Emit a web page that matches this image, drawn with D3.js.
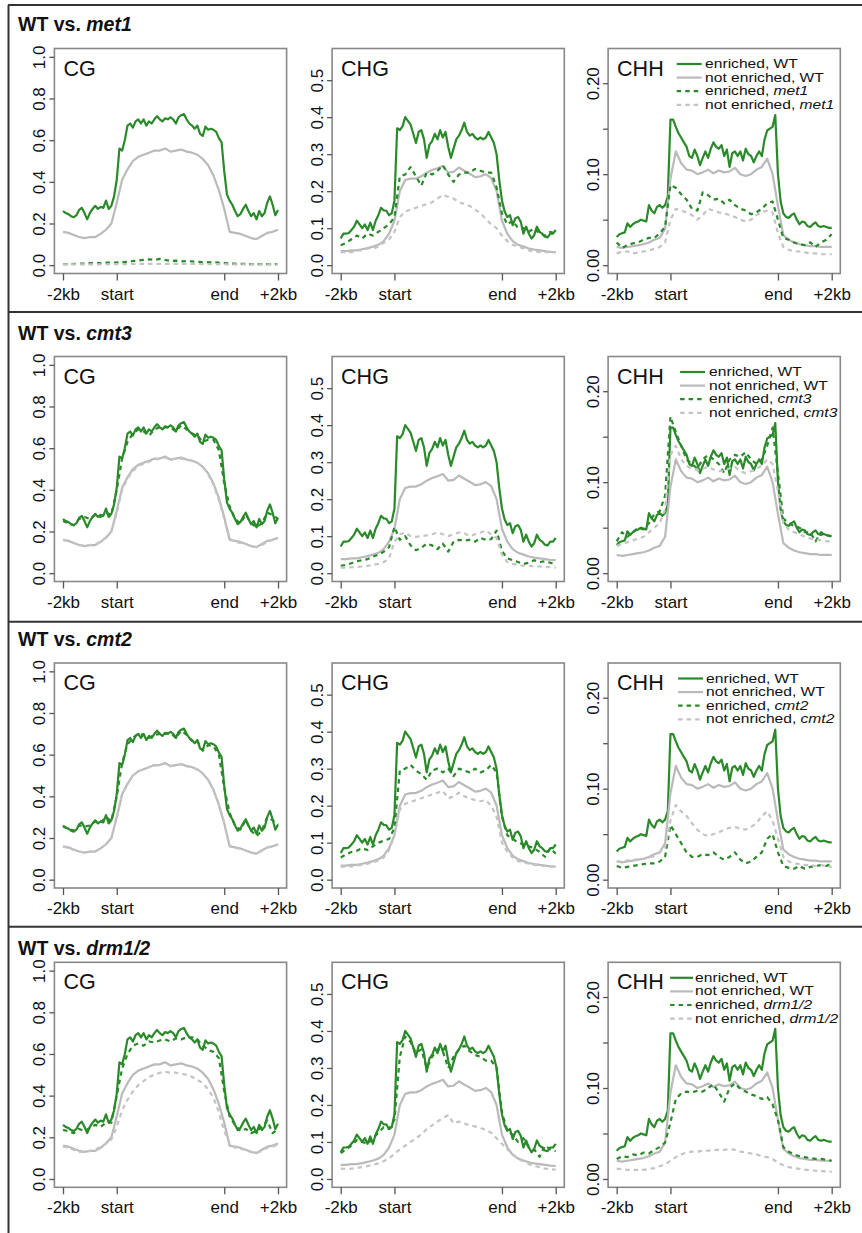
<!DOCTYPE html>
<html>
<head>
<meta charset="utf-8">
<script src="https://cdn.jsdelivr.net/npm/d3@7"></script>
<style>
  body { margin: 0; background: #fff; }
  svg text { font-family: "Liberation Sans", Arial, Helvetica, sans-serif; fill: #111; }
</style>
</head>
<body>
<svg id="fig" width="862" height="1233"></svg>
<script>
// ---- categories / labels
const contexts = ['CG', 'CHG', 'CHH'];
const mutants = ['met1', 'cmt3', 'cmt2', 'drm1/2'];
const regionTicks = [0, 1, 3, 4];
const regionLabels = ['-2kb', 'start', 'end', '+2kb'];

const cgTicks = [0, 0.2, 0.4, 0.6, 0.8, 1.0];
const cgTickLabels = ['0.0', '0.2', '0.4', '0.6', '0.8', '1.0'];
const chgTicks = [0, 0.1, 0.2, 0.3, 0.4, 0.5];
const chgTickLabels = ['0.0', '0.1', '0.2', '0.3', '0.4', '0.5'];
const chhTicks = [0, 0.05, 0.1, 0.15, 0.2];
const chhTickLabels = ['0.00', '', '0.10', '', '0.20'];
const yLimits = { CG: [0, 1], CHG: [0, 0.563], CHH: [0, 0.229] };

// bin positions: -2kb..start = 0..1, gene body = 1..3, end..+2kb = 3..4
const binsFine = d3.range(81).map(i => i / 20);
const binsCoarse = d3.range(41).map(i => i / 10);

// ---- WT (same in every row)
const wtCGenr = [0.26,0.25,0.245,0.235,0.23,0.24,0.265,0.275,0.25,0.22,
  0.25,0.27,0.285,0.27,0.28,0.275,0.31,0.27,0.285,0.33,
  0.41,0.56,0.55,0.6,0.67,0.68,0.66,0.69,0.7,0.68,
  0.7,0.67,0.69,0.68,0.7,0.715,0.7,0.69,0.705,0.7,
  0.71,0.7,0.68,0.71,0.72,0.725,0.7,0.68,0.67,0.655,
  0.67,0.63,0.62,0.665,0.65,0.655,0.65,0.64,0.61,0.59,
  0.45,0.34,0.31,0.29,0.26,0.235,0.245,0.27,0.29,0.26,
  0.235,0.25,0.22,0.26,0.235,0.25,0.3,0.33,0.29,0.24,
  0.265];
const wtCGnot = [0.16,0.155,0.145,0.135,0.13,0.135,0.135,0.15,0.17,0.2,
  0.3,0.41,0.46,0.5,0.52,0.53,0.54,0.55,0.55,0.56,
  0.545,0.55,0.555,0.545,0.54,0.53,0.51,0.48,0.43,0.36,
  0.27,0.16,0.155,0.15,0.14,0.13,0.125,0.14,0.155,0.16,
  0.17];
const wtCHGenr = [0.072,0.085,0.085,0.087,0.095,0.104,0.12,0.11,0.1,0.11,
  0.095,0.115,0.095,0.12,0.135,0.155,0.148,0.147,0.135,0.14,
  0.175,0.37,0.365,0.375,0.4,0.39,0.38,0.355,0.33,0.36,
  0.365,0.34,0.29,0.325,0.335,0.355,0.34,0.365,0.345,0.36,
  0.32,0.29,0.315,0.34,0.35,0.365,0.385,0.36,0.35,0.355,
  0.345,0.34,0.345,0.34,0.345,0.36,0.345,0.33,0.3,0.23,
  0.175,0.145,0.13,0.135,0.108,0.127,0.13,0.117,0.085,0.104,
  0.085,0.072,0.081,0.104,0.09,0.085,0.077,0.075,0.085,0.085,
  0.095];
const wtCHGnot = [0.038,0.038,0.04,0.04,0.043,0.046,0.05,0.055,0.065,0.085,
  0.12,0.2,0.23,0.234,0.234,0.24,0.25,0.257,0.262,0.268,
  0.25,0.252,0.264,0.255,0.247,0.238,0.24,0.246,0.235,0.2,
  0.12,0.085,0.065,0.055,0.05,0.045,0.042,0.04,0.038,0.036,
  0.035];
const wtCHHenr = [0.031,0.034,0.035,0.036,0.046,0.042,0.045,0.047,0.048,0.05,
  0.049,0.048,0.066,0.06,0.057,0.064,0.066,0.063,0.066,0.075,
  0.16,0.16,0.152,0.145,0.14,0.135,0.13,0.12,0.118,0.127,
  0.12,0.11,0.118,0.125,0.118,0.128,0.135,0.13,0.128,0.132,
  0.12,0.127,0.108,0.123,0.125,0.12,0.125,0.115,0.128,0.122,
  0.12,0.113,0.12,0.125,0.12,0.138,0.148,0.15,0.152,0.165,
  0.1,0.07,0.057,0.053,0.052,0.055,0.057,0.05,0.045,0.048,
  0.047,0.043,0.042,0.045,0.047,0.043,0.042,0.043,0.042,0.041,
  0.041];
const wtCHHnot = [0.02,0.019,0.02,0.021,0.022,0.023,0.025,0.028,0.03,0.04,
  0.095,0.125,0.112,0.105,0.104,0.1,0.102,0.105,0.101,0.104,
  0.102,0.103,0.107,0.1,0.098,0.1,0.105,0.108,0.117,0.1,
  0.065,0.033,0.028,0.025,0.023,0.022,0.021,0.021,0.02,0.02,
  0.02];

// ---- met1
const met1CGenr = [0.005,0.005,0.006,0.008,0.008,0.01,0.01,0.01,0.012,0.012,
  0.013,0.015,0.016,0.02,0.022,0.025,0.028,0.025,0.03,0.025,
  0.02,0.022,0.018,0.02,0.018,0.016,0.015,0.014,0.015,0.012,
  0.01,0.008,0.007,0.006,0.006,0.005,0.005,0.005,0.005,0.005,
  0.005];
const met1CGnot = [0.004,0.004,0.004,0.004,0.004,0.004,0.004,0.004,0.004,0.005,
  0.005,0.005,0.005,0.006,0.006,0.006,0.006,0.006,0.006,0.006,
  0.006,0.006,0.006,0.006,0.006,0.006,0.005,0.005,0.005,0.005,
  0.005,0.004,0.004,0.004,0.004,0.004,0.004,0.004,0.004,0.004,
  0.004];
const met1CHGenr = [0.054,0.06,0.07,0.08,0.072,0.085,0.08,0.09,0.1,0.11,
  0.13,0.24,0.245,0.265,0.24,0.215,0.25,0.245,0.255,0.27,
  0.245,0.225,0.245,0.25,0.25,0.26,0.255,0.25,0.25,0.21,
  0.14,0.11,0.12,0.1,0.1,0.09,0.1,0.085,0.08,0.09,
  0.085];
const met1CHGnot = [0.035,0.035,0.035,0.04,0.04,0.045,0.045,0.05,0.06,0.07,
  0.09,0.13,0.145,0.15,0.155,0.16,0.165,0.17,0.18,0.19,
  0.185,0.18,0.17,0.165,0.16,0.15,0.14,0.125,0.11,0.1,
  0.08,0.065,0.055,0.05,0.045,0.04,0.037,0.035,0.035,0.035,
  0.035];
const met1CHHenr = [0.025,0.019,0.022,0.024,0.025,0.028,0.03,0.03,0.035,0.042,
  0.088,0.085,0.078,0.072,0.062,0.06,0.08,0.077,0.072,0.073,
  0.068,0.072,0.066,0.062,0.06,0.056,0.058,0.062,0.068,0.07,
  0.05,0.03,0.028,0.025,0.023,0.022,0.025,0.02,0.025,0.028,
  0.034];
const met1CHHnot = [0.013,0.015,0.015,0.013,0.014,0.015,0.016,0.018,0.02,0.025,
  0.05,0.062,0.06,0.058,0.055,0.05,0.055,0.062,0.06,0.058,
  0.057,0.055,0.053,0.05,0.048,0.05,0.055,0.058,0.06,0.058,
  0.035,0.02,0.017,0.015,0.015,0.014,0.013,0.013,0.012,0.012,
  0.012];

// ---- cmt3
const cmt3CGenr = [0.25,0.24,0.23,0.26,0.27,0.26,0.28,0.27,0.29,0.28,
  0.4,0.55,0.63,0.67,0.69,0.68,0.66,0.69,0.7,0.7,
  0.7,0.68,0.71,0.69,0.67,0.66,0.63,0.64,0.64,0.59,
  0.43,0.32,0.26,0.24,0.28,0.24,0.22,0.24,0.29,0.28,
  0.26];
const cmt3CGnot = [0.16,0.155,0.145,0.135,0.132,0.135,0.138,0.152,0.172,0.2,
  0.29,0.4,0.455,0.49,0.515,0.525,0.535,0.545,0.55,0.555,
  0.545,0.55,0.55,0.545,0.54,0.53,0.51,0.475,0.425,0.35,
  0.26,0.165,0.15,0.145,0.14,0.13,0.125,0.135,0.15,0.16,
  0.165];
const cmt3CHGenr = [0.02,0.022,0.027,0.032,0.035,0.038,0.045,0.05,0.058,0.07,
  0.125,0.09,0.1,0.075,0.062,0.068,0.08,0.075,0.065,0.08,
  0.058,0.085,0.09,0.088,0.09,0.085,0.095,0.09,0.092,0.115,
  0.06,0.04,0.035,0.03,0.025,0.028,0.035,0.03,0.032,0.028,
  0.025];
const cmt3CHGnot = [0.015,0.015,0.016,0.017,0.018,0.02,0.022,0.025,0.03,0.04,
  0.085,0.105,0.11,0.1,0.098,0.1,0.102,0.105,0.11,0.105,
  0.1,0.105,0.11,0.108,0.1,0.105,0.11,0.115,0.105,0.095,
  0.05,0.03,0.025,0.022,0.02,0.02,0.018,0.018,0.017,0.016,
  0.015];
const cmt3CHHenr = [0.035,0.045,0.04,0.045,0.05,0.048,0.055,0.065,0.068,0.085,
  0.172,0.155,0.14,0.125,0.12,0.115,0.125,0.13,0.125,0.12,
  0.11,0.125,0.13,0.128,0.133,0.125,0.12,0.125,0.14,0.16,
  0.11,0.06,0.055,0.052,0.05,0.045,0.045,0.035,0.045,0.042,
  0.04];
const cmt3CHHnot = [0.03,0.032,0.034,0.036,0.038,0.04,0.045,0.05,0.055,0.07,
  0.13,0.14,0.125,0.118,0.115,0.113,0.115,0.117,0.114,0.112,
  0.113,0.115,0.117,0.112,0.11,0.112,0.115,0.118,0.125,0.12,
  0.09,0.055,0.048,0.045,0.043,0.04,0.038,0.037,0.036,0.035,
  0.035];

// ---- cmt2
const cmt2CGenr = [0.255,0.245,0.235,0.26,0.255,0.26,0.28,0.275,0.3,0.28,
  0.4,0.56,0.65,0.68,0.7,0.695,0.68,0.695,0.7,0.7,
  0.705,0.68,0.715,0.695,0.665,0.665,0.62,0.645,0.64,0.6,
  0.44,0.32,0.26,0.24,0.285,0.235,0.21,0.235,0.3,0.285,
  0.265];
const cmt2CGnot = [0.158,0.152,0.143,0.135,0.13,0.134,0.137,0.15,0.17,0.2,
  0.3,0.41,0.46,0.5,0.52,0.53,0.54,0.548,0.55,0.558,
  0.545,0.55,0.553,0.545,0.54,0.528,0.51,0.48,0.43,0.36,
  0.27,0.162,0.153,0.148,0.14,0.13,0.124,0.14,0.155,0.16,
  0.168];
const cmt2CHGenr = [0.06,0.068,0.075,0.078,0.085,0.08,0.09,0.1,0.105,0.11,
  0.14,0.295,0.3,0.31,0.295,0.285,0.27,0.295,0.3,0.29,
  0.3,0.28,0.3,0.295,0.29,0.3,0.29,0.295,0.31,0.29,
  0.17,0.12,0.11,0.1,0.095,0.09,0.085,0.075,0.062,0.085,
  0.07];
const cmt2CHGnot = [0.035,0.035,0.036,0.038,0.04,0.043,0.047,0.052,0.06,0.08,
  0.12,0.19,0.205,0.21,0.215,0.22,0.225,0.23,0.235,0.24,
  0.22,0.225,0.235,0.225,0.22,0.215,0.212,0.215,0.2,0.17,
  0.1,0.075,0.06,0.05,0.047,0.043,0.04,0.038,0.037,0.036,
  0.035];
const cmt2CHHenr = [0.015,0.013,0.014,0.015,0.016,0.017,0.018,0.018,0.02,0.025,
  0.06,0.05,0.04,0.03,0.025,0.025,0.028,0.027,0.03,0.025,
  0.022,0.025,0.03,0.022,0.018,0.02,0.025,0.03,0.045,0.05,
  0.03,0.015,0.013,0.012,0.015,0.012,0.014,0.015,0.016,0.015,
  0.018];
const cmt2CHHnot = [0.02,0.02,0.021,0.022,0.022,0.023,0.024,0.026,0.03,0.035,
  0.065,0.082,0.075,0.07,0.062,0.055,0.05,0.048,0.05,0.052,
  0.055,0.057,0.058,0.056,0.055,0.058,0.062,0.07,0.075,0.065,
  0.045,0.025,0.02,0.018,0.017,0.016,0.016,0.015,0.016,0.015,
  0.014];

// ---- drm1/2
const drmCGenr = [0.235,0.23,0.22,0.24,0.23,0.245,0.26,0.25,0.27,0.27,
  0.4,0.53,0.6,0.64,0.65,0.64,0.66,0.655,0.665,0.67,
  0.66,0.675,0.67,0.68,0.68,0.67,0.64,0.62,0.61,0.58,
  0.42,0.3,0.26,0.23,0.24,0.22,0.23,0.25,0.28,0.22,
  0.24];
const drmCGnot = [0.155,0.15,0.14,0.13,0.13,0.135,0.14,0.155,0.17,0.19,
  0.25,0.33,0.38,0.42,0.45,0.47,0.49,0.5,0.51,0.515,
  0.51,0.51,0.505,0.5,0.49,0.475,0.46,0.43,0.39,0.32,
  0.23,0.17,0.15,0.145,0.14,0.13,0.125,0.135,0.15,0.155,
  0.165];
const drmCHGenr = [0.07,0.08,0.09,0.105,0.1,0.095,0.11,0.125,0.14,0.135,
  0.16,0.33,0.385,0.37,0.34,0.35,0.3,0.33,0.35,0.345,
  0.3,0.33,0.35,0.36,0.345,0.335,0.33,0.32,0.32,0.3,
  0.18,0.13,0.12,0.1,0.11,0.085,0.08,0.06,0.09,0.08,
  0.075];
const drmCHGnot = [0.028,0.027,0.028,0.03,0.032,0.035,0.038,0.042,0.048,0.056,
  0.068,0.08,0.09,0.1,0.11,0.12,0.135,0.145,0.155,0.165,
  0.172,0.15,0.155,0.15,0.145,0.142,0.138,0.133,0.125,0.11,
  0.095,0.08,0.068,0.055,0.048,0.04,0.035,0.032,0.028,0.026,
  0.025];
const drmCHHenr = [0.022,0.025,0.024,0.027,0.026,0.029,0.028,0.032,0.035,0.04,
  0.062,0.088,0.094,0.096,0.095,0.097,0.096,0.1,0.104,0.095,
  0.085,0.1,0.105,0.099,0.096,0.093,0.091,0.088,0.09,0.082,
  0.065,0.035,0.03,0.027,0.025,0.024,0.023,0.022,0.022,0.021,
  0.02];
const drmCHHnot = [0.011,0.011,0.01,0.01,0.01,0.01,0.011,0.012,0.014,0.016,
  0.02,0.024,0.027,0.029,0.03,0.03,0.031,0.031,0.032,0.032,
  0.032,0.033,0.032,0.03,0.029,0.028,0.027,0.025,0.024,0.022,
  0.018,0.015,0.013,0.012,0.011,0.01,0.01,0.009,0.009,0.008,
  0.008];

// tables built from the arrays above
const wtSeries = {
  CG: { enr: wtCGenr, not: wtCGnot },
  CHG: { enr: wtCHGenr, not: wtCHGnot },
  CHH: { enr: wtCHHenr, not: wtCHHnot }
};
const mutSeries = {
  'met1': { CG: [met1CGenr, met1CGnot], CHG: [met1CHGenr, met1CHGnot], CHH: [met1CHHenr, met1CHHnot] },
  'cmt3': { CG: [cmt3CGenr, cmt3CGnot], CHG: [cmt3CHGenr, cmt3CHGnot], CHH: [cmt3CHHenr, cmt3CHHnot] },
  'cmt2': { CG: [cmt2CGenr, cmt2CGnot], CHG: [cmt2CHGenr, cmt2CHGnot], CHH: [cmt2CHHenr, cmt2CHHnot] },
  'drm1/2': { CG: [drmCGenr, drmCGnot], CHG: [drmCHGenr, drmCHGnot], CHH: [drmCHHenr, drmCHHnot] }
};
const yAxes = {
  CG: { ticks: cgTicks, labels: cgTickLabels },
  CHG: { ticks: chgTicks, labels: chgTickLabels },
  CHH: { ticks: chhTicks, labels: chhTickLabels }
};

// ---- layout
const rowTop = [5, 312, 621.7, 926.7];
const titleBase = [31, 340, 646, 955];
const boxTop = [48.5, 356.5, 663, 962.3];
const boxH = 225;
const boxLeft = [54.4, 332.1, 608.1];
const boxW = 232.2;
// legend placement per row, relative to the CHH box
const legendPos = [
  { x0: 68.6, x1: 93.6, tx: 97 },
  { x0: 72, x1: 97, tx: 101 },
  { x0: 70, x1: 95, tx: 98 },
  { x0: 62, x1: 85, tx: 87 }
];
const legendY0 = 19.5;
const legendDy = 13.6;

const GREEN = '#2a8a2a';
const GREY = '#bababa';
const GREY_D = '#c4c4c4';
const styles = [
  { color: GREEN, dash: null },
  { color: GREY, dash: null },
  { color: GREEN, dash: '4.5,4' },
  { color: GREY_D, dash: '4.5,4' }
];

const svg = d3.select('#fig');

// outer frame and row separators
svg.append('line')
  .attr('x1', 8.5).attr('x2', 8.5).attr('y1', rowTop[0]).attr('y2', 1233)
  .attr('stroke', '#333').attr('stroke-width', 2);
svg.selectAll('line.sep').data(rowTop).join('line')
  .attr('class', 'sep')
  .attr('x1', 8).attr('x2', 862).attr('y1', d => d).attr('y2', d => d)
  .attr('stroke', '#333').attr('stroke-width', 2);

mutants.forEach((mut, r) => {
  // row title
  const title = svg.append('text')
    .attr('x', 18).attr('y', titleBase[r])
    .attr('font-size', 19.5).attr('font-weight', 'bold');
  title.append('tspan').text('WT vs. ');
  title.append('tspan').attr('font-style', 'italic').text(mut);

  contexts.forEach((ctx, c) => {
    const left = boxLeft[c];
    const top = boxTop[r];
    const [lo, hi] = yLimits[ctx];
    const pad = (hi - lo) * 0.04;

    const x = d3.scaleLinear().domain([-0.16, 4.16]).range([left, left + boxW]);
    const y = d3.scaleLinear().domain([lo - pad, hi + pad]).range([top + boxH, top]);

    const g = svg.append('g').attr('class', 'panel');

    const series = [
      { vals: wtSeries[ctx].enr, bins: binsFine, st: styles[0] },
      { vals: wtSeries[ctx].not, bins: binsCoarse, st: styles[1] },
      { vals: mutSeries[mut][ctx][0], bins: binsCoarse, st: styles[2] },
      { vals: mutSeries[mut][ctx][1], bins: binsCoarse, st: styles[3] }
    ];

    g.selectAll('path.series').data(series).join('path')
      .attr('class', 'series')
      .attr('fill', 'none')
      .attr('stroke', s => s.st.color)
      .attr('stroke-width', 2.2)
      .attr('stroke-dasharray', s => s.st.dash)
      .attr('stroke-linejoin', 'round')
      .attr('d', s => d3.line().x((d, i) => x(s.bins[i])).y(d => y(d))(s.vals));

    // box
    g.append('rect')
      .attr('x', left).attr('y', top).attr('width', boxW).attr('height', boxH)
      .attr('fill', 'none').attr('stroke', '#888').attr('stroke-width', 1.6);

    // x axis
    const xa = g.append('g')
      .attr('transform', `translate(0,${top + boxH})`)
      .call(d3.axisBottom(x).tickValues(regionTicks)
        .tickFormat((d, i) => regionLabels[i]).tickSize(7).tickPadding(7));
    xa.select('.domain').remove();
    xa.selectAll('line').attr('stroke', '#555').attr('stroke-width', 1.3);
    xa.selectAll('text').attr('font-size', 17).attr('fill', '#111')
      .attr('font-family', '"Liberation Sans", Arial, sans-serif');

    // y axis, R style rotated labels
    const ya = g.append('g')
      .attr('transform', `translate(${left},0)`)
      .call(d3.axisLeft(y).tickValues(yAxes[ctx].ticks)
        .tickFormat((d, i) => yAxes[ctx].labels[i]).tickSize(5));
    ya.select('.domain').remove();
    ya.selectAll('line').attr('stroke', '#555').attr('stroke-width', 1.3);
    ya.selectAll('text')
      .attr('x', null).attr('dy', null)
      .attr('text-anchor', 'middle')
      .attr('transform', 'translate(-9.5,0) rotate(-90)')
      .attr('font-size', 17).attr('fill', '#111')
      .attr('font-family', '"Liberation Sans", Arial, sans-serif');

    // context label
    g.append('text')
      .attr('x', left + 9).attr('y', top + 27)
      .attr('font-size', 21.5)
      .text(ctx);

    // legend in the CHH panel
    if (ctx === 'CHH') {
      const lp = legendPos[r];
      const entries = [
        { lab: 'enriched, ', who: 'WT', it: false, st: styles[0] },
        { lab: 'not enriched, ', who: 'WT', it: false, st: styles[1] },
        { lab: 'enriched, ', who: mut, it: true, st: styles[2] },
        { lab: 'not enriched, ', who: mut, it: true, st: styles[3] }
      ];
      const lg = g.append('g').attr('class', 'legend');
      entries.forEach((e, k) => {
        const by = top + legendY0 + k * legendDy;
        lg.append('line')
          .attr('x1', left + lp.x0).attr('x2', left + lp.x1)
          .attr('y1', by - 4).attr('y2', by - 4)
          .attr('stroke', e.st.color).attr('stroke-width', 2.2)
          .attr('stroke-dasharray', e.st.dash);
        const t = lg.append('text')
          .attr('transform', `translate(${left + lp.tx},${by}) scale(1.3,1)`)
          .attr('font-size', 12);
        t.append('tspan').text(e.lab);
        t.append('tspan').attr('font-style', e.it ? 'italic' : null).text(e.who);
      });
    }
  });
});
</script>
</body>
</html>
